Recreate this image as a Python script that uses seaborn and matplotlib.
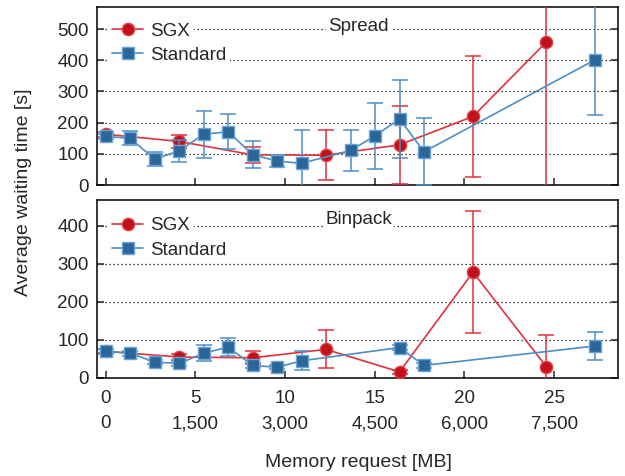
import numpy as np
import matplotlib
matplotlib.use("Agg")
import matplotlib.pyplot as plt
import seaborn as sns
from matplotlib.lines import Line2D

# memory request positions [MB]
x_std_spread = [0, 410, 819, 1229, 1638, 2048, 2458, 2867, 3277, 4096, 4506, 4915, 5325, 8192]
y_std_spread = [156, 150, 83, 110, 163, 171, 98, 77, 70, 111, 158, 212, 107, 402]
e_std_spread = [8, 23, 23, 36, 76, 56, 43, 20, 106, 66, 106, 126, 108, 177]

x_sgx_spread = [0, 1229, 2458, 3686, 4915, 6144, 7373]
y_sgx_spread = [163, 140, 97, 96, 129, 220, 459]
e_sgx_spread = [8, 22, 25, 80, 125, 193, 470]

x_std_binpack = [0, 410, 819, 1229, 1638, 2048, 2458, 2867, 3277, 4915, 5325, 8192]
y_std_binpack = [70, 65, 42, 38, 65, 81, 33, 28, 45, 80, 33, 84]
e_std_binpack = [6, 6, 6, 6, 21, 23, 6, 5, 25, 6, 6, 38]

x_sgx_binpack = [0, 1229, 2458, 3686, 4915, 6144, 7373]
y_sgx_binpack = [70, 55, 53, 75, 16, 278, 29]
e_sgx_binpack = [5, 8, 17, 50, 5, 160, 83]

tick_mb = [0, 1500, 3000, 4500, 6000, 7500]
tick_top = ["0", "5", "10", "15", "20", "25"]
tick_bot = ["0", "1,500", "3,000", "4,500", "6,000", "7,500"]

sns.set_style("ticks")
plt.rcParams["font.family"] = ["Liberation Sans", "DejaVu Sans"]
FS = 13.5
LFS = 14

RED_LINE, RED_FILL, RED_EDGE = "#e3303a", "#c3111b", "#e04048"
BLUE_LINE, BLUE_FILL, BLUE_EDGE = "#4b8ec8", "#2b6698", "#6aa3d6"

fig = plt.figure(figsize=(6.25, 4.76), dpi=100)
ax1 = fig.add_axes([0.155, 0.611, 0.834, 0.374])
ax2 = fig.add_axes([0.155, 0.206, 0.834, 0.374])


def draw(ax, xs, ys, es, xr, yr, er, ylim, yticks, title, ty, ly):
    ax.errorbar(xs, ys, yerr=es, fmt="none", ecolor=RED_LINE, elinewidth=1.1,
                capsize=5.5, capthick=1.1, zorder=3)
    sns.lineplot(x=xs, y=ys, ax=ax, color=RED_LINE, lw=1.2, marker="o",
                 markersize=8.8, markerfacecolor=RED_FILL, markeredgecolor=RED_EDGE,
                 markeredgewidth=1, zorder=4)
    ax.errorbar(xr, yr, yerr=er, fmt="none", ecolor=BLUE_LINE, elinewidth=1.1,
                capsize=5.5, capthick=1.1, zorder=5)
    sns.lineplot(x=xr, y=yr, ax=ax, color=BLUE_LINE, lw=1.2, marker="s",
                 markersize=8.3, markerfacecolor=BLUE_FILL, markeredgecolor=BLUE_EDGE,
                 markeredgewidth=1, zorder=6)
    ax.set_xlim(-147, 8571)
    ax.set_ylim(*ylim)
    ax.set_yticks(yticks)
    ax.set_xticks(tick_mb)
    ax.yaxis.grid(True, linestyle=(0, (1, 2.2)), color="black", lw=0.9, zorder=0)
    ax.set_axisbelow(True)
    ax.tick_params(axis="both", direction="in", length=5, width=1.1,
                   labelsize=FS, right=True, top=False)
    ax.tick_params(axis="y", pad=6)
    for s in ax.spines.values():
        s.set_linewidth(1.1)
        s.set_color("black")
    ax.text(0.502, ty, title, transform=ax.transAxes, ha="center", va="center",
            fontsize=FS, zorder=7,
            bbox=dict(facecolor="white", edgecolor="none", pad=1.5))
    h_sgx = Line2D([], [], color=RED_LINE, lw=1.2, marker="o", markersize=8.8,
                   markerfacecolor=RED_FILL, markeredgecolor=RED_EDGE)
    h_std = Line2D([], [], color=BLUE_LINE, lw=1.2, marker="s", markersize=8.3,
                   markerfacecolor=BLUE_FILL, markeredgecolor=BLUE_EDGE)
    legs = []
    for h, lab, yy in [(h_sgx, "SGX", ly[0]), (h_std, "Standard", ly[1])]:
        lg = ax.legend([h], [lab], loc="center left", bbox_to_anchor=(0.022, yy),
                       borderaxespad=0, borderpad=0.2, handlelength=1.65,
                       handletextpad=0.38, fontsize=FS, frameon=True,
                       facecolor="white", edgecolor="none", framealpha=1, fancybox=False)
        lg.set_zorder(8)
        legs.append(lg)
    ax.add_artist(legs[0])
    ax.set_xlabel("")
    ax.set_ylabel("")


draw(ax1, x_sgx_spread, y_sgx_spread, e_sgx_spread,
     x_std_spread, y_std_spread, e_std_spread,
     (0, 570), [0, 100, 200, 300, 400, 500], "Spread", 0.89, (0.864, 0.73))
draw(ax2, x_sgx_binpack, y_sgx_binpack, e_sgx_binpack,
     x_std_binpack, y_std_binpack, e_std_binpack,
     (0, 468), [0, 100, 200, 300, 400], "Binpack", 0.89, (0.855, 0.718))

ax1.tick_params(axis="x", labelbottom=False)
ax2.set_xticklabels(tick_top)
ax2.tick_params(axis="x", pad=8.5)

sec = ax2.secondary_xaxis("bottom")
sec.set_xticks(tick_mb)
sec.set_xticklabels(tick_bot)
sec.tick_params(axis="x", length=0, pad=27, labelsize=FS)
sec.spines["bottom"].set_visible(False)

fig.text(0.573, 0.029, "Memory request [MB]", ha="center", va="center", fontsize=LFS)
fig.text(0.038, 0.596, "Average waiting time [s]", ha="center", va="center",
         rotation=90, fontsize=LFS)

fig.savefig("out.png", dpi=100)
